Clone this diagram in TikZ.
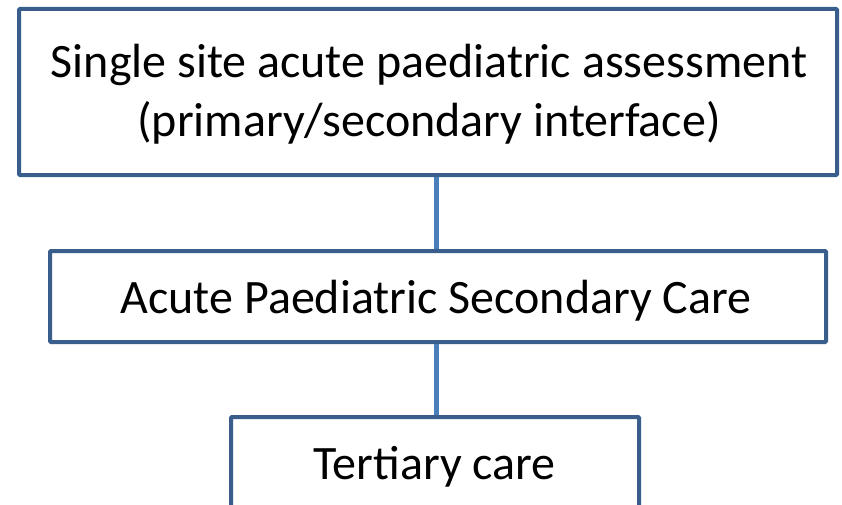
\documentclass[tikz,border=0pt]{standalone}
\usepackage{fontspec}
\setmainfont{Carlito}
\definecolor{boxblue}{HTML}{3A5E8C}
\definecolor{linkblue}{HTML}{4A7EBB}
\begin{document}
\begin{tikzpicture}[x=1pt,y=-1pt,
  box/.style={draw=boxblue,line width=4pt,fill=white,rounded corners=1pt,inner sep=0pt},
  label/.style={anchor=base,inner sep=0pt,font=\fontsize{48}{59}\selectfont},
  link/.style={draw=linkblue,line width=5pt}]
\useasboundingbox (0,0) rectangle (842,505);
\clip (0,0) rectangle (842,505);
\coordinate (c) at (436,0);
\node[box,minimum width=818pt,minimum height=166pt] (b1) at (428,92) {};
\node[box,minimum width=776pt,minimum height=91pt] (b2) at (438,296.5) {};
\node[box,minimum width=408pt,minimum height=120pt] (b3) at (435,477) {};
\node[label] (t1a) at (429,78) {Single site acute paediatric assessment};
\node[label] (t1b) at (429,137) {(primary/secondary interface)};
\node[label] (t2) at (436,313) {Acute Paediatric Secondary Care};
\node[label] (t3) at (434.5,479) {Tertiary care};
\draw[link] (b1.south -| c) -- (b2.north -| c);
\draw[link] (b2.south -| c) -- (b3.north -| c);
\end{tikzpicture}
\end{document}
